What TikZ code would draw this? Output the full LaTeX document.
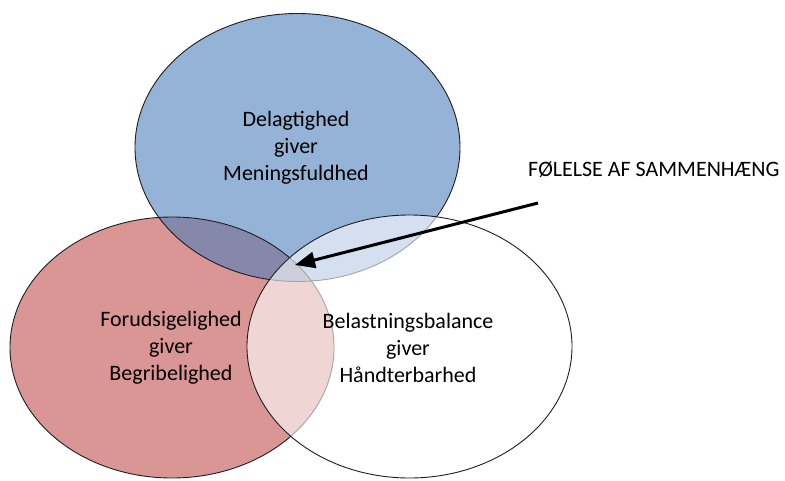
\documentclass[tikz,border=0pt]{standalone}
\usepackage{fontspec}
\setmainfont{Carlito}
\usetikzlibrary{arrows.meta}
\definecolor{cblue}{RGB}{149,179,215}
\definecolor{cred}{RGB}{217,150,148}
\definecolor{cpurple}{RGB}{134,136,171}
\definecolor{cedge}{RGB}{30,30,30}
\tikzset{
  outline/.style={draw=cedge, line width=0.9pt},
  lbl/.style={align=center, text=black, font=\fontsize{22}{27}\selectfont, inner sep=0pt},
}
\begin{document}
\begin{tikzpicture}[x=1pt,y=-1pt]
\useasboundingbox (0,0) rectangle (785,480);
\fill[white] (0,0) rectangle (785,480);
% blue and red
\fill[cblue] (297.5,147.5) ellipse [x radius=162.5, y radius=134];
\fill[cred] (172,347.5) ellipse [x radius=162, y radius=130.5];
\begin{scope}
  \clip (297.5,147.5) ellipse [x radius=162.5, y radius=134];
  \fill[cpurple] (172,347.5) ellipse [x radius=162, y radius=130.5];
\end{scope}
\draw[outline] (297.5,147.5) ellipse [x radius=162.5, y radius=134];
\draw[outline] (172,347.5) ellipse [x radius=162, y radius=130.5];
% white, semi-transparent
\fill[white, fill opacity=0.6] (409.5,346.5) ellipse [x radius=162.5, y radius=131.5];
\draw[outline] (409.5,346.5) ellipse [x radius=162.5, y radius=131.5];
% labels
\node[lbl] (blue) at (296,148) {Delagtighed\\giver\\Meningsfuldhed};
\node[lbl] (red) at (171,348) {Forudsigelighed\\giver\\Begribelighed};
\node[lbl] (white) at (408,348) {Belastningsbalance\\giver\\Håndterbarhed};
\node[lbl, anchor=west] (felt) at (528,170) {FØLELSE AF SAMMENHÆNG};
% arrow
\coordinate (astart) at (538,203);
\coordinate (atip) at (295,265);
\draw[line width=3pt, black, -{Triangle[length=20pt,width=16pt]}] (astart) -- (atip);
\end{tikzpicture}
\end{document}
